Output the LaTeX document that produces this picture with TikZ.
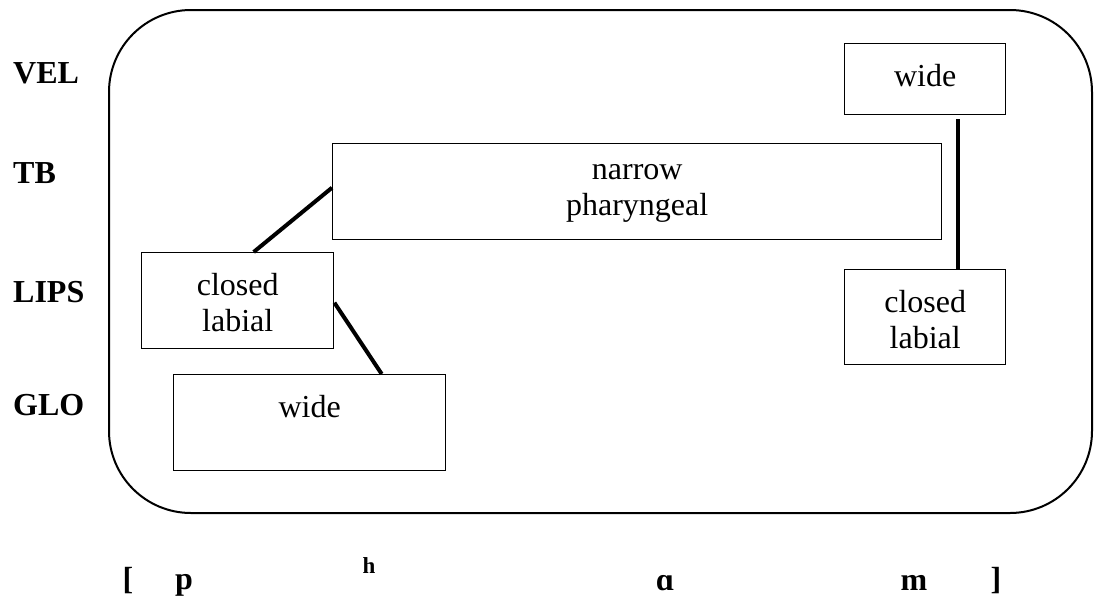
\documentclass[tikz,border=0pt]{standalone}
\usepackage{fontspec}
\setmainfont{Liberation Serif}
\usetikzlibrary{calc}
\begin{document}
\begin{tikzpicture}[x=1pt,y=-1pt,
  tierbox/.style={draw, line width=1.4pt, inner sep=0pt, anchor=north west},
  boxtext/.style={anchor=north, inner sep=0pt, align=center, yshift=-21pt, font=\fontsize{32}{36}\selectfont},
  tierlabel/.style={anchor=base west, inner sep=0pt, font=\fontsize{32}{36}\selectfont\bfseries},
  seg/.style={anchor=base, inner sep=0pt, font=\fontsize{32}{36}\selectfont\bfseries},
  link/.style={line width=4pt}]
\useasboundingbox (0,0) rectangle (1096,598);
% outer frame
\draw[line width=2pt, rounded corners=82pt] (109,10) rectangle (1092,513);
% tier labels
\node[tierlabel] (lvel) at (13,83) {VEL};
\node[tierlabel] (ltb) at (13,183) {TB};
\node[tierlabel] (llips) at (13,302) {LIPS};
\node[tierlabel] (lglo) at (13,415) {GLO};
% gesture boxes
\node[tierbox, minimum width=161pt, minimum height=71pt] (vel) at (844,43) {};
\node[boxtext] (veltxt) at (vel.north) {wide};
\node[tierbox, minimum width=609pt, minimum height=96pt] (tb) at (332,143) {};
\node[boxtext] (tbtxt) at (tb.north) {narrow\\pharyngeal};
\node[tierbox, minimum width=192pt, minimum height=96pt] (lipsL) at (141,252) {};
\node[boxtext] (lipsLtxt) at (lipsL.north) {closed\\labial};
\node[tierbox, minimum width=161pt, minimum height=95pt] (lipsR) at (844,269) {};
\node[boxtext] (lipsRtxt) at (lipsR.north) {closed\\labial};
\node[tierbox, minimum width=272pt, minimum height=96pt] (glo) at (173,374) {};
\node[boxtext] (glotxt) at (glo.north) {wide};
% links
\draw[link] ([xshift=16pt]lipsL.north) -- ([yshift=4pt]tb.west);
\draw[link] ([yshift=-2pt]lipsL.east) -- ([xshift=72pt]glo.north);
\draw[link] ([xshift=32.5pt,yshift=-4pt]vel.south) -- ([xshift=32.5pt]lipsR.north);
% transcription
\node[seg] (lbr) at (128,589) {[};
\node[seg] (sp) at (184,589) {p};
\node[seg, font=\fontsize{23}{26}\selectfont\bfseries] (sh) at (369,573) {h};
\node[seg] (sa) at (665,590) {ɑ};
\node[seg] (sm) at (914,590) {m};
\node[seg] (rbr) at (996,589) {]};
\end{tikzpicture}
\end{document}
